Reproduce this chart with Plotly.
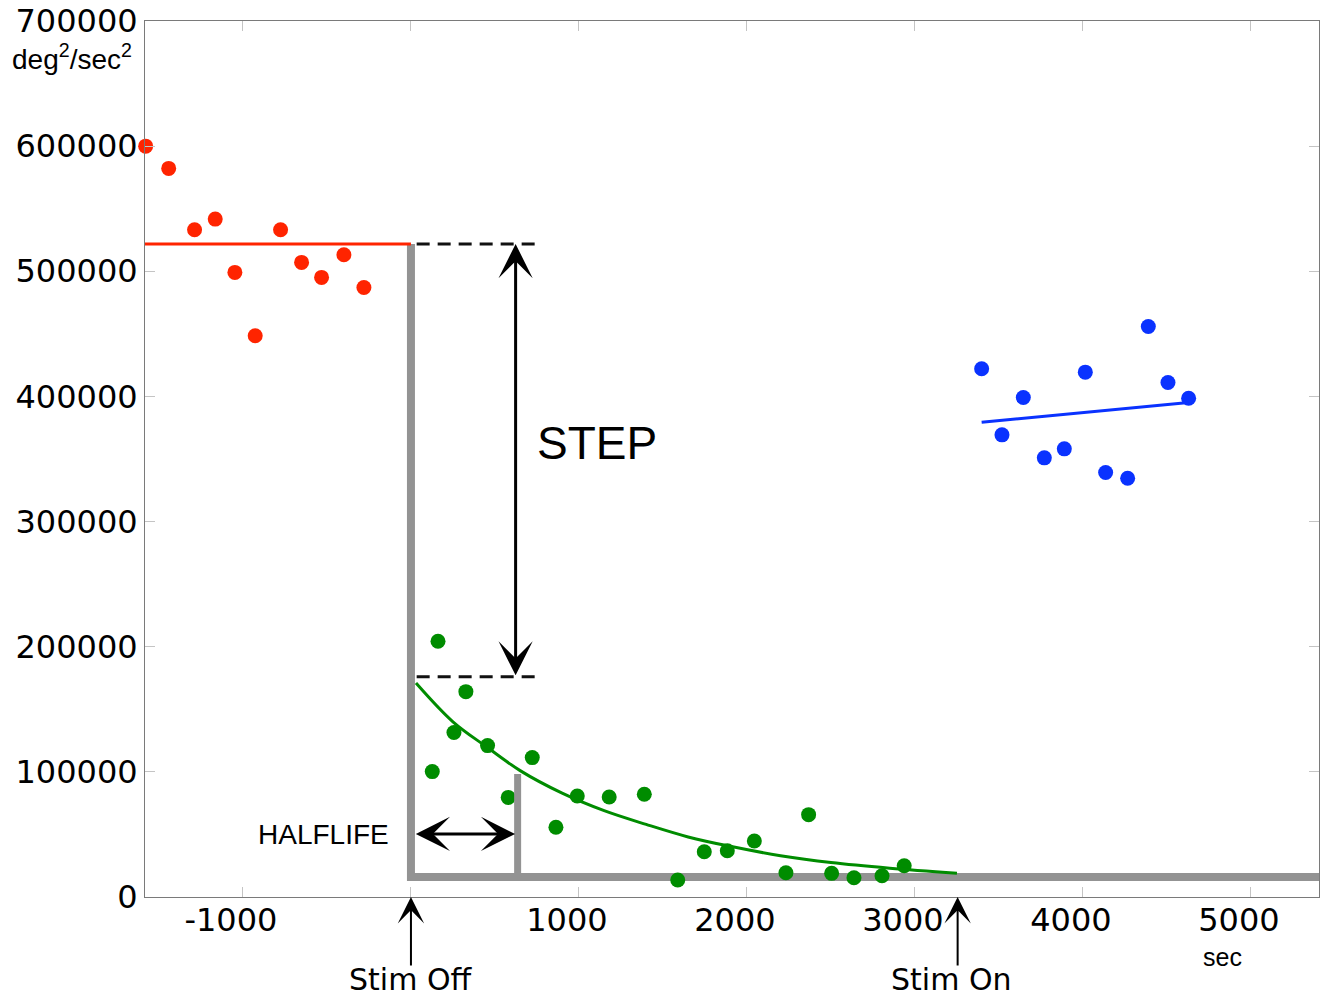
import plotly.graph_objects as go

# ---------------- data ----------------
x_range = [-1583, 5405]
y_range = [0, 700000]

x_tickvals = [-1000, 0, 1000, 2000, 3000, 4000, 5000]
x_ticktext = ["-1000", "", "1000", "2000", "3000", "4000", "5000"]
y_tickvals = [0, 100000, 200000, 300000, 400000, 500000, 600000, 700000]
y_ticktext = ["0", "100000", "200000", "300000", "400000", "500000", "600000", "700000"]

red_x = [-1579, -1442, -1288, -1165, -1048, -927, -776, -651, -532, -399, -280]
red_y = [600000, 582200, 533200, 541700, 499100, 448500, 533200, 507100, 495100, 513200, 487100]
pre_level = 521800

green_x = [127, 161, 256, 327, 456, 579, 722, 863, 990, 1180, 1389, 1588, 1746, 1883,
           2044, 2232, 2367, 2504, 2637, 2804, 2936]
green_y = [100200, 204400, 131400, 164100, 121000, 79600, 111400, 55700, 80700, 79900,
           82100, 13600, 36200, 37000, 44800, 19400, 65800, 18900, 15400, 17000, 25000]

# fitted decay curve
fit_x = [30, 250, 450, 650, 900, 1150, 1400, 1650, 1900, 2200, 2500, 2850, 3250]
fit_y = [171000, 140000, 120000, 101000, 83000, 69000, 58000, 48000, 40500, 33000, 27500, 23000, 19000]

blue_x = [3397, 3518, 3645, 3770, 3889, 4014, 4135, 4266, 4389, 4506, 4629]
blue_y = [422100, 369300, 399100, 350900, 358100, 419400, 339200, 334600, 455900, 411100, 398600]
blue_fit_x = [3397, 4629]
blue_fit_y = [379400, 395100]

stim_off_t = 0
stim_on_t = 3254
post_level = 175900
floor_level = 16000
halflife_t = 635
halflife_top = 98300
step_arrow_t = 623
dash_x = [34, 748]
step_end_x = 5600

RED = "#FF2400"
GREEN = "#008C00"
BLUE = "#0A32FF"
GRAY = "#939393"

fig = go.Figure()

# gray step outline
fig.add_trace(go.Scatter(x=[stim_off_t, stim_off_t, step_end_x],
                         y=[pre_level, floor_level, floor_level],
                         mode="lines", line=dict(color=GRAY, width=8), hoverinfo="skip"))
# green data and fit
fig.add_trace(go.Scatter(x=green_x, y=green_y, mode="markers",
                         marker=dict(color=GREEN, size=15), cliponaxis=False))
fig.add_trace(go.Scatter(x=fit_x, y=fit_y, mode="lines", line=dict(color=GREEN, width=3, shape="spline")))
# halflife marker line
fig.add_trace(go.Scatter(x=[halflife_t, halflife_t], y=[floor_level, halflife_top],
                         mode="lines", line=dict(color=GRAY, width=7)))
# red baseline and data
fig.add_trace(go.Scatter(x=[x_range[0], stim_off_t], y=[pre_level, pre_level], mode="lines",
                         line=dict(color=RED, width=3)))
fig.add_trace(go.Scatter(x=red_x, y=red_y, mode="markers",
                         marker=dict(color=RED, size=15), cliponaxis=False))
# blue data and fit
fig.add_trace(go.Scatter(x=blue_x, y=blue_y, mode="markers",
                         marker=dict(color=BLUE, size=15)))
fig.add_trace(go.Scatter(x=blue_fit_x, y=blue_fit_y, mode="lines", line=dict(color=BLUE, width=3)))
# dashed level lines
for lvl in (pre_level, post_level):
    fig.add_trace(go.Scatter(x=dash_x, y=[lvl, lvl], mode="lines",
                             line=dict(color="#111111", width=3, dash="13px,8px")))

annotations = [
    # STEP double arrow
    dict(x=step_arrow_t, y=pre_level, ax=step_arrow_t, ay=post_level, xref="x", yref="y",
         axref="x", ayref="y", text="", showarrow=True, arrowhead=3, startarrowhead=3,
         arrowside="end+start", arrowsize=1.9, startarrowsize=1.9, arrowwidth=3, arrowcolor="black"),
    dict(x=1107, y=362900, xref="x", yref="y", text="STEP", showarrow=False,
         font=dict(family="Liberation Sans", size=46, color="black")),
    # HALFLIFE double arrow
    dict(x=halflife_t - 15, y=50400, ax=20, ay=50400, xref="x", yref="y",
         axref="x", ayref="y", text="", showarrow=True, arrowhead=3, startarrowhead=3,
         arrowside="end+start", arrowsize=1.9, startarrowsize=1.9, arrowwidth=3, arrowcolor="black"),
    dict(x=-518, y=49600, xref="x", yref="y", text="HALFLIFE", showarrow=False,
         font=dict(family="Liberation Sans", size=28, color="black")),
    # Stim Off / Stim On arrows
    dict(x=stim_off_t, y=0, xref="x", yref="paper", ax=0, ay=70, text="",
         showarrow=True, arrowhead=3, arrowsize=2.2, arrowwidth=2, arrowcolor="black"),
    dict(x=stim_on_t, y=0, xref="x", yref="paper", ax=0, ay=70, text="",
         showarrow=True, arrowhead=3, arrowsize=2.2, arrowwidth=2, arrowcolor="black"),
    # Stim Off / Stim On labels
    dict(x=stim_off_t, y=0, xref="x", yref="paper", yshift=-82, xshift=0, text="Stim Off",
         showarrow=False, xanchor="center", yanchor="middle",
         font=dict(family="DejaVu Sans", size=30, color="black")),
    dict(x=stim_on_t, y=0, xref="x", yref="paper", yshift=-82, xshift=-6, text="Stim On",
         showarrow=False, xanchor="center", yanchor="middle",
         font=dict(family="DejaVu Sans", size=30, color="black")),
    # units
    dict(x=-0.0622, y=0.959, xref="paper", yref="paper", text="deg<sup>2</sup>/sec<sup>2</sup>",
         showarrow=False, xanchor="center", yanchor="middle",
         font=dict(family="Liberation Sans", size=28, color="black")),
    dict(x=0.9174, y=-0.068, xref="paper", yref="paper", text="sec",
         showarrow=False, xanchor="center", yanchor="middle",
         font=dict(family="Liberation Sans", size=25, color="black")),
]

axis_common = dict(showgrid=False, zeroline=False, showline=True, linecolor="#7a7a7a", linewidth=1,
                   mirror="ticks", ticks="inside", ticklen=10, tickcolor="#c4c4c4", tickwidth=1,
                   tickfont=dict(family="DejaVu Sans", size=32, color="black"))

fig.update_layout(
    width=1325, height=996, template="none",
    margin=dict(l=145, r=6, t=21, b=99),
    paper_bgcolor="white", plot_bgcolor="white",
    showlegend=False,
    xaxis=dict(range=x_range, tickmode="array", tickvals=x_tickvals, ticktext=x_ticktext,
               ticklabelshift=-12, ticklabelstandoff=-5, **axis_common),
    yaxis=dict(range=y_range, tickmode="array", tickvals=y_tickvals, ticktext=y_ticktext,
               **axis_common),
    annotations=annotations,
)

fig.write_html("out.html", config={"displayModeBar": False},
               post_script="document.body.style.margin='0px';")
